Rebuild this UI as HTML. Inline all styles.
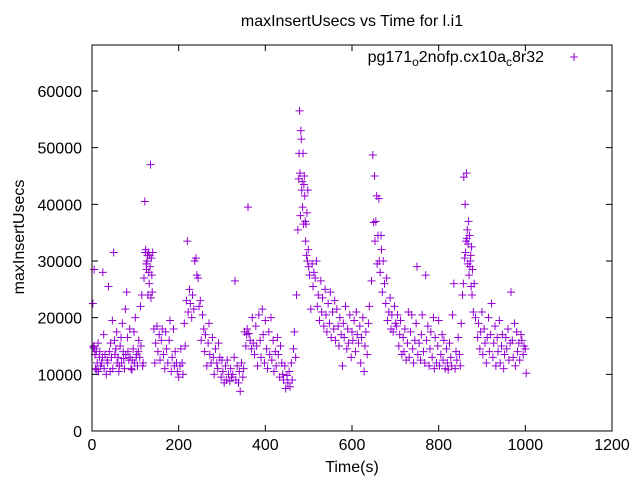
<!DOCTYPE html>
<html><head><meta charset="utf-8"><style>
html,body{margin:0;padding:0;background:#fff;}
svg{display:block;font-family:"Liberation Sans",sans-serif;}
</style></head><body>
<svg id="chart" width="640" height="480" viewBox="0 0 640 480" xmlns="http://www.w3.org/2000/svg">
<rect x="0" y="0" width="640" height="480" fill="#fff"/>
<text x="352" y="26" font-size="16" text-anchor="middle" fill="#000">maxInsertUsecs vs Time for l.i1</text>
<g id="axes"></g>
<g id="points"></g>
<rect x="92" y="45" width="520" height="386" fill="none" stroke="#000" stroke-width="1"/>
<text x="352" y="472" font-size="16" text-anchor="middle">Time(s)</text>
<text x="0" y="0" font-size="16" text-anchor="middle" transform="translate(24,237) rotate(-90)">maxInsertUsecs</text>
<g>
<text x="544" y="62" font-size="16" text-anchor="end">pg171<tspan font-size="12" dy="4">o</tspan><tspan dy="-4">2nofp.cx10a</tspan><tspan font-size="12" dy="4">c</tspan><tspan dy="-4">8r32</tspan></text>
<path d="M570,57h8M574,53v8" stroke="#9400d3" stroke-width="1"/>
</g>
</svg>
<script>
const xTicks=[0,200,400,600,800,1000,1200];
const yTicks=[0,10000,20000,30000,40000,50000,60000];
const times=[2,4,5,6,8,10,12,14,15,17,20,22,25,28,30,33,35,38,40,42,45,48,50,52,55,58,60,62,65,68,70,72,75,78,80,82,85,88,90,92,95,98,100,103,105,108,110,112,115,118,
3,7,11,18,24,27,36,43,47,53,57,63,67,73,77,83,87,93,97,102,107,113,117,
120,122,123,124,125,126,127,128,129,130,131,132,133,134,135,136,137,138,139,140,
143,145,147,150,152,155,157,160,162,165,168,170,172,175,178,180,183,185,188,190,192,195,197,200,203,205,208,210,213,215,
218,220,222,225,227,230,232,235,237,240,242,245,247,250,252,255,
258,260,262,265,268,270,272,275,278,280,282,285,288,290,292,295,298,300,
302,305,308,310,312,315,318,320,322,325,328,330,332,335,338,340,342,345,348,350,
352,355,357,358,360,362,365,368,370,372,375,378,380,382,385,388,390,393,395,398,400,403,405,408,410,413,415,418,420,423,425,428,430,433,435,438,
440,442,445,447,450,452,455,457,460,462,465,467,470,
472,475,477,478,479,480,481,482,483,484,485,486,487,488,489,490,491,492,493,494,495,496,497,498,499,500,
502,505,508,510,512,515,518,520,522,525,528,530,532,535,538,540,542,545,548,550,552,555,558,560,
562,565,568,570,572,575,578,580,582,585,588,590,592,595,598,600,602,605,608,610,612,615,618,620,622,625,628,630,632,635,638,640,
645,648,650,652,653,655,657,658,660,662,663,665,667,668,670,672,675,678,680,682,685,688,690,692,695,698,700,
703,705,708,710,712,715,718,720,722,725,728,730,732,735,738,740,742,745,748,750,752,755,758,760,762,765,768,770,772,775,778,780,782,785,788,790,792,795,798,800,802,805,808,810,812,815,818,820,822,825,828,830,832,835,838,840,842,845,848,850,
852,855,857,858,860,861,862,863,864,865,866,867,868,869,870,871,872,873,874,875,876,877,878,880,882,885,
890,892,895,897,900,902,905,907,910,912,915,917,920,922,925,927,930,932,935,937,940,942,945,947,950,952,955,957,960,962,965,967,970,972,975,977,980,982,985,987,990,992,995,997,1000,1002];
const values=[22500,15000,28500,14500,11000,14000,12000,15500,10500,13000,11500,12000,28000,11000,13500,10000,12500,25500,14000,10500,13000,11000,31500,16000,14500,12000,13000,10500,15000,12000,19000,14000,11000,13500,24500,16500,12500,13000,11000,10800,14500,12000,20000,13500,11500,16000,13000,22000,24000,12000,
14800,13500,10800,14000,13000,17000,12000,15500,19500,13500,17500,11500,16500,12800,21500,14000,18000,12500,17500,13000,14000,15000,11500,
27000,40500,31500,32000,29500,28500,30000,31000,24000,31500,28000,26000,31000,29000,47000,23500,30500,27500,24500,31500,
18000,12000,15500,18500,14000,17000,12500,16000,18000,13500,11000,17500,14500,12000,16000,19500,10500,13000,18000,11500,14000,12000,10500,9500,11500,14500,12000,10000,19000,15000,
23000,33500,21000,25000,22500,20000,24000,21500,30000,30500,27500,27000,22000,23000,16000,20500,
18000,14000,17000,11500,15500,19000,13500,12000,16500,13000,10000,14500,12000,11000,15500,13000,9500,12500,
10500,8500,11500,9000,12500,10000,8800,11000,9500,10000,13000,26500,9000,11500,8500,10500,7000,12000,9500,11000,
17500,15000,17000,18000,39500,17200,16000,14500,20000,15500,13500,18500,15000,11500,20500,16000,13000,21500,17000,12000,19500,14500,11000,17500,13500,20000,12500,16000,10500,14000,11500,16500,13500,9500,15000,12000,
10000,9000,11500,7500,9800,8500,10500,7800,12000,9000,14500,17500,13000,
24000,35500,44500,49000,56500,45500,38000,53000,51500,42500,44000,39500,49000,36500,43500,45000,41500,37000,33500,36500,31000,38500,30000,42500,32000,29000,
27500,21500,29500,25500,28000,27000,30000,22000,24000,19500,26500,21000,23500,18500,25000,20500,17500,22500,19000,24500,16500,21000,18000,23000,
16000,21500,18500,15000,20000,17000,11500,19000,16500,22000,14500,18000,15500,20500,13000,17500,16000,19500,14000,21000,17000,15500,18500,12000,16500,20000,10500,15000,17500,13500,19000,22000,
26500,48700,36800,45000,33500,37000,41500,29500,34500,41000,30000,28000,34500,32000,24500,30000,26000,22500,27000,19500,21000,23500,18000,20500,17500,22000,19000,
18500,20500,15000,17000,19500,13500,16500,14000,18000,12500,15500,21000,13000,17500,20500,14500,12000,16000,19000,29000,13500,15500,12500,17000,20500,14000,12000,27500,16000,18500,11500,14500,17500,13000,20000,11000,16500,12000,15000,19500,11500,13500,17000,12500,16000,11000,14500,12000,10800,15500,13000,11500,20500,26000,11000,14000,12500,16500,13500,11500,
19000,24000,26000,44800,30500,40000,31500,33500,45500,34000,35500,29500,33000,37000,27500,34500,29000,30000,31000,25500,32500,24000,28500,21000,26000,20000,
16500,19000,14500,17500,21000,13500,18000,15500,12000,16500,20000,14000,17000,22500,13000,15500,18500,11500,16500,14000,19500,12000,15000,17000,11000,13500,16500,14500,18000,12500,15500,24500,16000,13000,19000,11500,17500,14000,15500,12500,17000,16000,13500,15000,14500,10200];

const X0=92,X1=612,Y0=431,Y1=45,XMAX=1200,YMAX=68120;
function sx(v){return X0+(v/XMAX)*(X1-X0);}
function sy(v){return Y0-(v/YMAX)*(Y0-Y1);}
const NS="http://www.w3.org/2000/svg";
const axes=document.getElementById('axes');
xTicks.forEach(function(t){
  const x=sx(t);
  const p=document.createElementNS(NS,'path');
  p.setAttribute('d','M'+x+','+Y0+'v-6M'+x+','+Y1+'v6');
  p.setAttribute('stroke','#000');
  
  
  axes.appendChild(p);
  const tx=document.createElementNS(NS,'text');
  tx.setAttribute('x',x);tx.setAttribute('y',Y0+19);
  tx.setAttribute('font-size','16');tx.setAttribute('text-anchor','middle');
  tx.textContent=String(t);
  
  
  axes.appendChild(tx);
});
yTicks.forEach(function(t){
  const y=sy(t);
  const p=document.createElementNS(NS,'path');
  p.setAttribute('d','M'+X0+','+y+'h6M'+X1+','+y+'h-6');
  p.setAttribute('stroke','#000');
  
  
  axes.appendChild(p);
  const tx=document.createElementNS(NS,'text');
  tx.setAttribute('x',X0-10);tx.setAttribute('y',y+6);
  tx.setAttribute('font-size','16');tx.setAttribute('text-anchor','end');
  tx.textContent=String(t);
  
  
  axes.appendChild(tx);
});
const pts=document.getElementById('points');
let d='';
for(let i=0;i<times.length;i++){
  const x=sx(times[i]),y=sy(values[i]);
  d+='M'+(x-4)+','+y+'h8M'+x+','+(y-4)+'v8';
}
const path=document.createElementNS(NS,'path');
path.setAttribute('d',d);
path.setAttribute('stroke','#9400d3');
path.setAttribute('stroke-width','1');
path.setAttribute('fill','none');


pts.appendChild(path);
</script>
</body></html>
